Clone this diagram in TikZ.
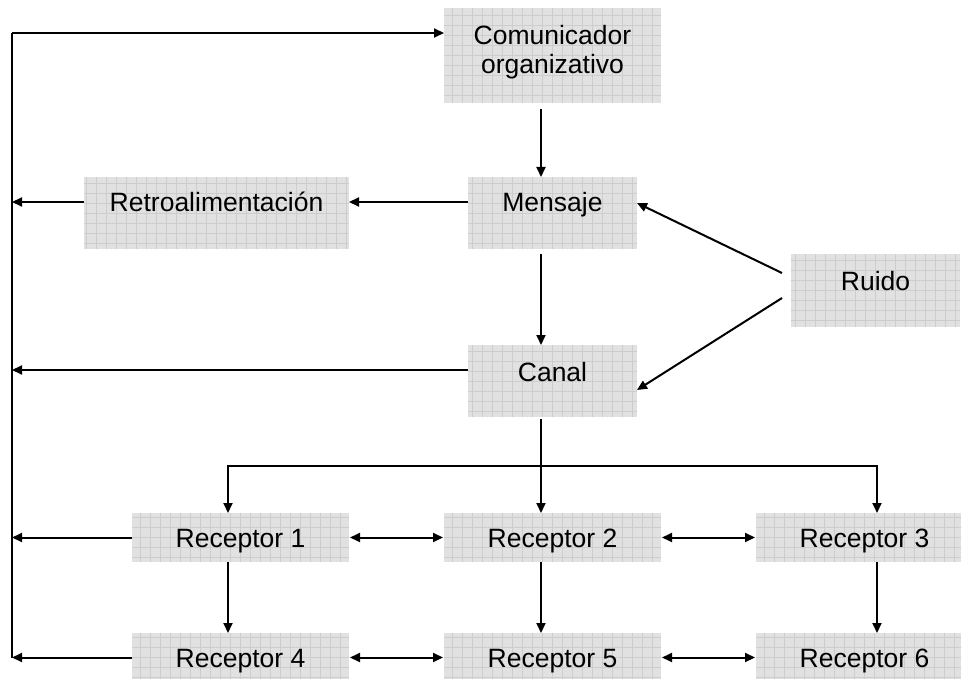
\documentclass[tikz,border=0pt]{standalone}
\usepackage{fontspec}
\setmainfont{Liberation Sans}
\usetikzlibrary{arrows.meta}
\definecolor{boxfill}{HTML}{E1E1E1}
\definecolor{gridcol}{HTML}{CDCDCD}
\begin{document}
\begin{tikzpicture}[x=1pt,y=-1pt,
  box/.style={draw=none, fill=boxfill, inner sep=0pt, outer sep=0pt,
    path picture={\draw[gridcol, line width=0.6pt]
      (path picture bounding box.south west) grid[step=10pt]
      (path picture bounding box.north east);}},
  txt/.style={anchor=base, inner sep=0pt, font=\fontsize{26.5}{30}\selectfont, align=center},
  conn/.style={line width=2pt},
  arr/.style={conn, -{Triangle[length=10pt,width=9pt]}},
  darr/.style={conn, {Triangle[length=10pt,width=9pt]}-{Triangle[length=10pt,width=9pt]}}]
\clip (0,0) rectangle (961,679);
\fill[white] (0,0) rectangle (961,679);

% boxes
\node[box, minimum width=217, minimum height=95] (com) at (552.5,55.5) {};
\node[box, minimum width=265, minimum height=72] (retro) at (216.5,213) {};
\node[box, minimum width=169, minimum height=72] (men) at (552.5,213) {};
\node[box, minimum width=169, minimum height=72] (can) at (552.5,381) {};
\node[box, minimum width=169, minimum height=73] (rui) at (875.5,290.5) {};
\node[box, minimum width=217, minimum height=49] (r1) at (240.5,537.5) {};
\node[box, minimum width=217, minimum height=49] (r2) at (552.5,537.5) {};
\node[box, minimum width=217, minimum height=49] (r3) at (864.5,537.5) {};
\node[box, minimum width=217, minimum height=49] (r4) at (240.5,657.5) {};
\node[box, minimum width=217, minimum height=49] (r5) at (552.5,657.5) {};
\node[box, minimum width=217, minimum height=49] (r6) at (864.5,657.5) {};

% texts
\node[txt] at (552.5,45) {Comunicador};
\node[txt] at (552.5,74) {organizativo};
\node[txt] at (216.5,212) {Retroalimentación};
\node[txt] at (552.5,212) {Mensaje};
\node[txt] at (552.5,381) {Canal};
\node[txt] at (875.5,290) {Ruido};
\node[txt] at (240.5,547) {Receptor 1};
\node[txt] at (552.5,547) {Receptor 2};
\node[txt] at (864.5,547) {Receptor 3};
\node[txt] at (240.5,667) {Receptor 4};
\node[txt] at (552.5,667) {Receptor 5};
\node[txt] at (864.5,667) {Receptor 6};

% left feedback bus
\coordinate (bt) at (12,33);
\coordinate (bR) at (12,202);
\coordinate (bC) at (12,370);
\coordinate (b1) at (12,537.5);
\coordinate (bb) at (12,657.5);
\draw[conn] (bb) -- (bt);
\draw[arr] (bt) -- (com.west |- bt);
\draw[arr] ([yshift=11pt]retro.west) -- (bR);
\draw[arr] ([yshift=11pt]men.west) -- ([yshift=11pt]retro.east);
\draw[arr] ([yshift=11pt]can.west) -- (bC);
\draw[arr] (r1.west) -- (b1);
\draw[arr] (r4.west) -- (bb);

% main column
\draw[arr] ([xshift=-11.5pt,yshift=-6pt]com.south) -- ([xshift=-11.5pt]men.north);
\draw[arr] ([xshift=-11.5pt,yshift=-5pt]men.south) -- ([xshift=-11.5pt]can.north);
\draw[arr] ([xshift=-11.5pt,yshift=-2pt]can.south) -- ([xshift=-11.5pt]r2.north);
\coordinate (br) at (541,466);
\draw[arr] (br) -| ([xshift=-12.5pt]r1.north);
\draw[arr] (br) -| ([xshift=12.5pt]r3.north);

% noise
\draw[arr] ([xshift=-9pt,yshift=17.5pt]rui.west) -- ([yshift=10pt]men.east);
\draw[arr] ([xshift=-9pt,yshift=-7.5pt]rui.west) -- ([yshift=-9pt]can.east);

% receptors
\draw[darr] ([xshift=1pt]r1.east) -- ([xshift=-1pt]r2.west);
\draw[darr] ([xshift=1pt]r2.east) -- ([xshift=-1pt]r3.west);
\draw[darr] ([xshift=1pt]r4.east) -- ([xshift=-1pt]r5.west);
\draw[darr] ([xshift=1pt]r5.east) -- ([xshift=-1pt]r6.west);
\draw[arr] ([xshift=-12.5pt]r1.south) -- ([xshift=-12.5pt]r4.north);
\draw[arr] ([xshift=-11.5pt]r2.south) -- ([xshift=-11.5pt]r5.north);
\draw[arr] ([xshift=12.5pt]r3.south) -- ([xshift=12.5pt]r6.north);
\end{tikzpicture}
\end{document}
